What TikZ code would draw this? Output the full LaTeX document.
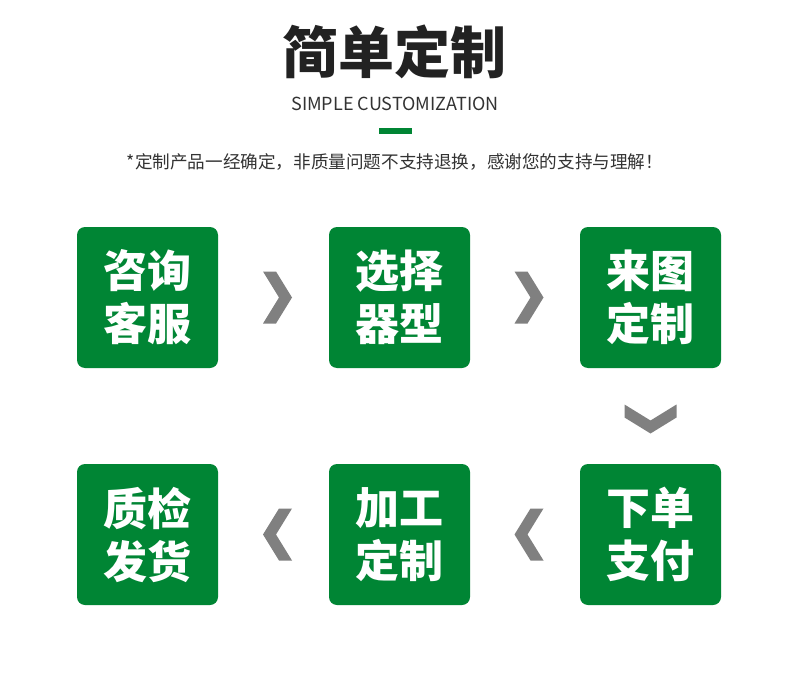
\documentclass[tikz,border=0pt]{standalone}
\usepackage{fontspec}
\newfontfamily\cjk{Noto Sans CJK SC}
\usepackage{xcolor}
\definecolor{leaf}{RGB}{0,133,52}
\definecolor{ink}{RGB}{34,34,34}
\definecolor{slate}{RGB}{51,51,51}
\definecolor{pebble}{RGB}{128,128,128}
\usepackage{tikz}
\usetikzlibrary{calc}
\tikzset{
  %% chevron between two cards, tip pointing right
  chev/.pic={
    \fill[pebble] (-14.5,-26) -- (-1.5,-26) -- (14.5,0)
      -- (-1.5,26) -- (-14.5,26) -- (1.5,0) -- cycle;
  },
}
\begin{document}
\begin{tikzpicture}[x=1pt,y=-1pt,
  card/.style={rectangle,rounded corners=8pt,fill=leaf,text=white,
               minimum width=141pt,minimum height=141pt,inner sep=0pt,
               align=center,font=\cjk\bfseries\fontsize{44}{53}\selectfont},
]
  \fill[white] (0,0) rectangle (790,682);
  \useasboundingbox (0,0) rectangle (790,682);

  \node[font=\cjk\bfseries\fontsize{56}{60}\selectfont,text=ink](T) at (394,52) {简单定制};
  \node[font=\cjk\fontsize{18}{20}\selectfont,text=slate](S) at (395,104) {SIMPLE CUSTOMIZATION};
  \fill[leaf] (379,128) rectangle (412,134);
  \node[font=\cjk\fontsize{17.6}{20}\selectfont,text=slate](N) at (395,162)
    {*定制产品一经确定，非质量问题不支持退换，感谢您的支持与理解！};

  \node[card](A) at (147.5,297.5) {咨询\\客服};
  \node[card](B) at (399.5,297.5) {选择\\器型};
  \node[card](C) at (650.5,297.5) {来图\\定制};
  \node[card](D) at (650.5,534.5) {下单\\支付};
  \node[card](E) at (399.5,534.5) {加工\\定制};
  \node[card](F) at (147.5,534.5) {质检\\发货};

  \foreach \a/\b in {A/B,B/C}{%
    \path ($(\a.east)!0.5!(\b.west)$) pic[xshift=4pt] {chev};}
  \path ($(C.south)!0.5!(D.north)$) pic[yshift=-3pt,rotate=-90] {chev};
  \foreach \a/\b in {D/E,E/F}{%
    \path ($(\a.west)!0.5!(\b.east)$) pic[xshift=4pt,rotate=180] {chev};}
\end{tikzpicture}
\end{document}
